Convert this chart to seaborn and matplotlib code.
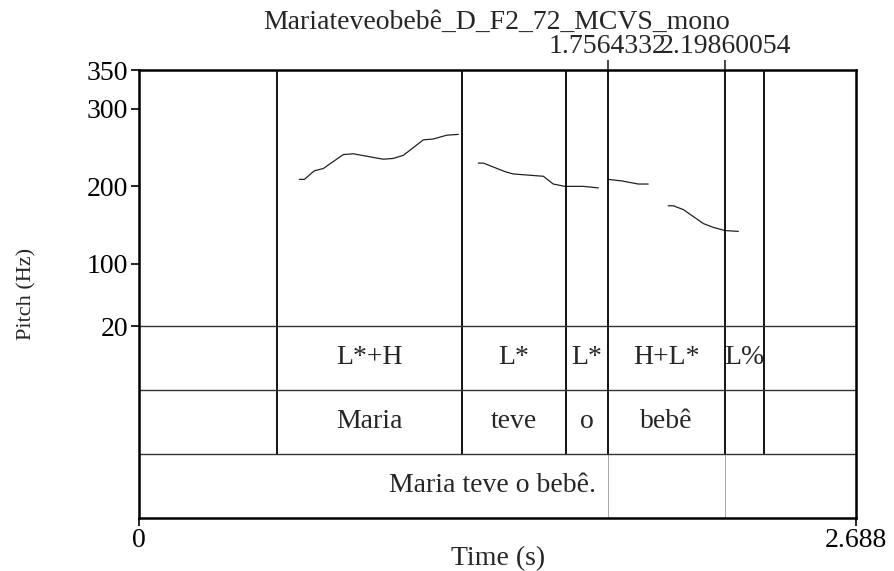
import pandas as pd
import matplotlib
matplotlib.use("Agg")
import matplotlib.pyplot as plt
import seaborn as sns

sns.set_style("ticks")
plt.rcParams['font.family'] = ['Liberation Serif', 'DejaVu Serif']
plt.rcParams['font.size'] = 20

# pitch contour (time in s, f0 in Hz), one list per voiced stretch
seg1_t = [0.601, 0.620, 0.657, 0.691, 0.766, 0.803, 0.916, 0.953, 0.991, 1.066, 1.103, 1.154, 1.197]
seg1_f0 = [209, 209, 220, 223, 241, 242, 235, 236, 240, 260, 261, 266, 267]
seg2_t = [1.272, 1.291, 1.372, 1.403, 1.516, 1.553, 1.597, 1.666, 1.722]
seg2_f0 = [230, 230, 219, 216, 213, 203, 200, 200, 198]
seg3_t = [1.759, 1.810, 1.872, 1.909]
seg3_f0 = [209, 207, 203, 203]
seg4_t = [1.984, 2.003, 2.041, 2.116, 2.154, 2.197, 2.247]
seg4_f0 = [175, 175, 170, 152, 147, 143, 142]

t_end = 2.688
boundaries = [0.517, 1.211, 1.601, 1.7564332, 2.19860054, 2.343]
tones = ["", "L*+H", "L*", "L*", "H+L*", "L%", ""]
words = ["", "Maria", "teve", "o", "bebê", "", ""]
sentence = "Maria teve o bebê."
marks = [1.7564332, 2.19860054]
mark_labels = ["1.7564332", "2.19860054"]
yticks = [20, 100, 200, 300, 350]

segs = [(seg1_t, seg1_f0), (seg2_t, seg2_f0), (seg3_t, seg3_f0), (seg4_t, seg4_f0)]
df = pd.concat([pd.DataFrame({'t': t, 'f0': f, 'seg': i}) for i, (t, f) in enumerate(segs)])

# tier layout in pitch units below the 20 Hz floor
fmin, fmax = 20, 350
tier_h = 82.5
tier_tops = [fmin - k * tier_h for k in range(4)]  # 20, -62.5, -145, -227.5

fig = plt.figure(figsize=(8.94, 5.71), dpi=100)
ax = fig.add_axes([139/894, 1 - 518/571, 717/894, 448/571])

sns.lineplot(data=df, x='t', y='f0', units='seg', estimator=None, sort=False,
             color='#222222', lw=0.9, ax=ax)

# boundaries through the pitch area and the two interval tiers
ax.vlines(boundaries, tier_tops[2], fmax, color='black', lw=1.3)
ax.vlines(marks, tier_tops[3], tier_tops[2], color='#999999', lw=0.6)
for y in tier_tops[:3]:
    ax.axhline(y, color='#333333', lw=1.0)

edges = [0] + boundaries + [t_end]
mids = [(a + b) / 2 for a, b in zip(edges[:-1], edges[1:])]
for m, tone, word in zip(mids, tones, words):
    ax.text(m, (tier_tops[0] + tier_tops[1]) / 2, tone, ha='center', va='center')
    ax.text(m, (tier_tops[1] + tier_tops[2]) / 2, word, ha='center', va='center')
ax.text(t_end / 2 - 0.02, (tier_tops[2] + tier_tops[3]) / 2, sentence, ha='center', va='center')

ax.set_xlim(0, t_end)
ax.set_ylim(tier_tops[3], fmax)
ax.set_yticks(yticks)
ax.set_xticks([0, t_end])
ax.set_xticklabels(['0', '2.688'])
ax.tick_params(direction='out', length=6, width=1.2, pad=2, colors='black')
ax.tick_params(axis='x', pad=1)
ax.set_xlabel('')
ax.set_ylabel('')
for s in ax.spines.values():
    s.set_visible(True)
    s.set_linewidth(1.8)
    s.set_color('black')

top = ax.twiny()
top.set_xlim(0, t_end)
top.set_xticks(marks)
top.set_xticklabels(mark_labels)
top.tick_params(direction='out', length=7, width=1.2, pad=1)
for s in top.spines.values():
    s.set_visible(False)

fig.text(497/894, 1 - 22/571, 'Mariateveobebê_D_F2_72_MCVS_mono', ha='center', va='center')
fig.text(498/894, 1 - 559/571, 'Time (s)', ha='center', va='center', fontsize=20)
fig.text(27/894, 1 - 294/571, 'Pitch (Hz)', rotation=90, ha='center', va='center', fontsize=16)

fig.savefig('out.png', dpi=100)
plt.close()
